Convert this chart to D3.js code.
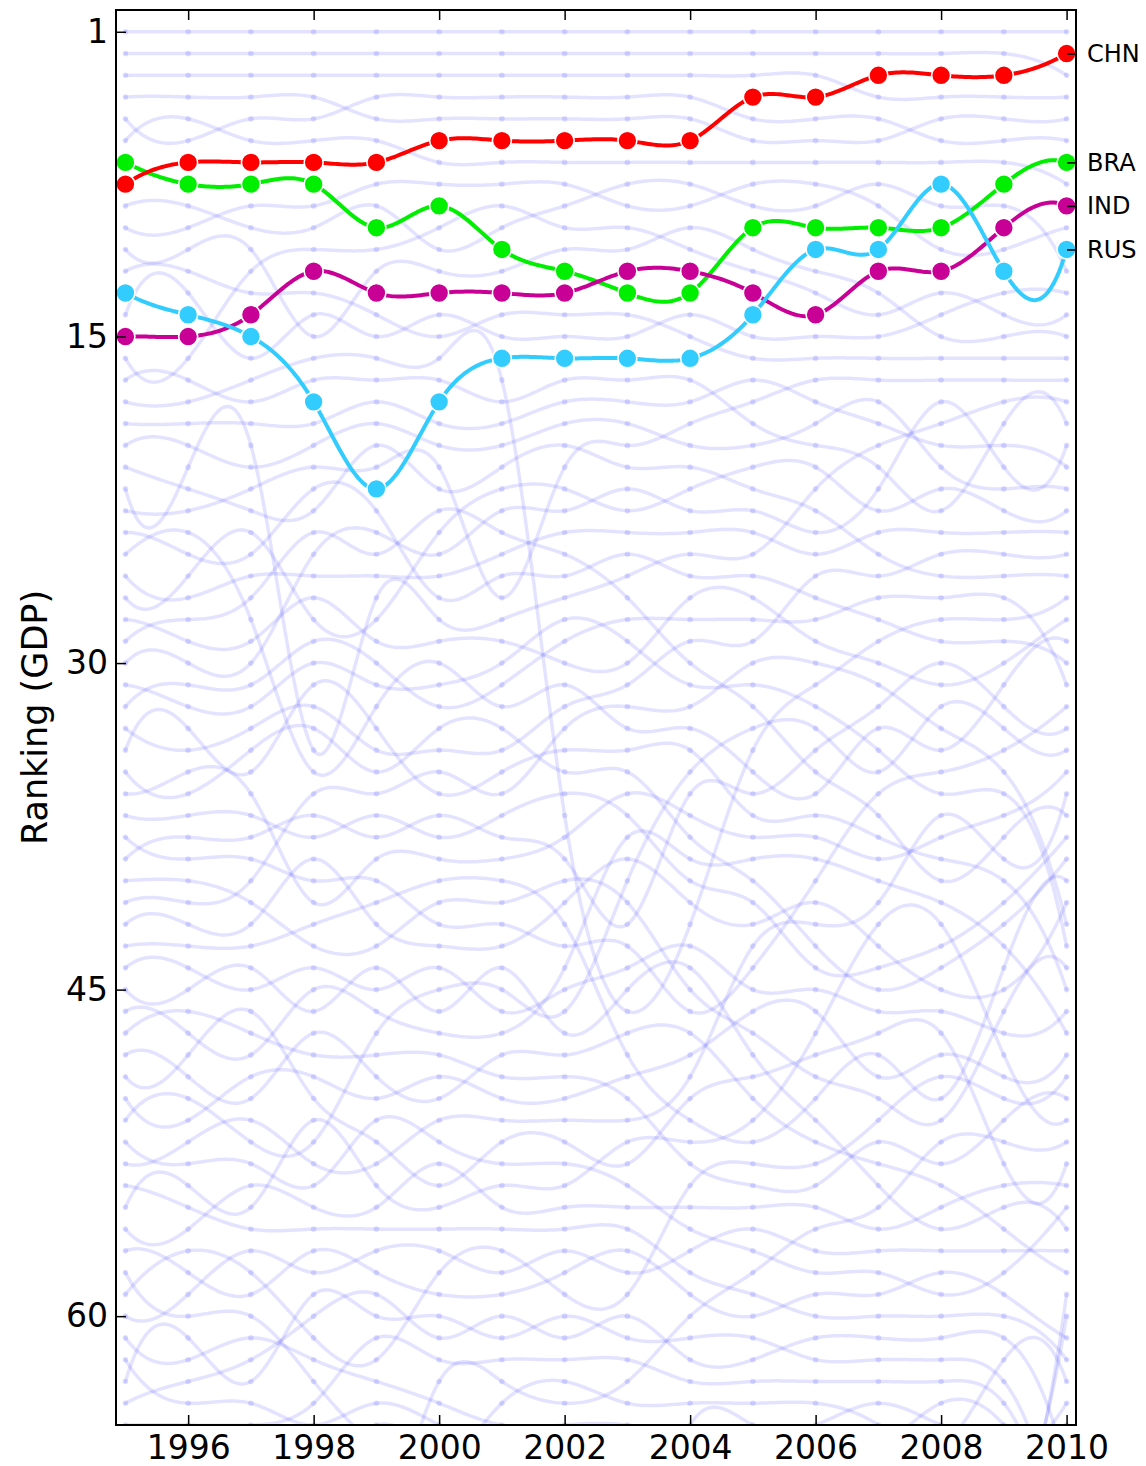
<!DOCTYPE html>
<html><head><meta charset="utf-8">
<script src="https://cdn.jsdelivr.net/npm/d3@7"></script>
<style>
body{margin:0;background:#fff}
svg{display:block}
text{font-family:"DejaVu Sans",sans-serif}
</style>
</head><body>
<svg id="chart" width="1146" height="1466"></svg>
<script>
// ---------------- data ----------------
const years = [1995,1996,1997,1998,1999,2000,2001,2002,2003,2004,2005,2006,2007,2008,2009,2010];
const xTickYears = [1996,1998,2000,2002,2004,2006,2008,2010];
const yTickRanks = [1,15,30,45,60];

const chnRank = [8,7,7,7,7,6,6,6,6,6,4,4,3,3,3,2];
const braRank = [7,8,8,8,10,9,11,12,13,13,10,10,10,10,8,7];
const indRank = [15,15,14,12,13,13,13,13,12,12,13,14,12,12,10,9];
const rusRank = [13,14,15,18,22,18,16,16,16,16,14,11,11,8,12,11];

const seriesNames = ["BRA","IND","CHN","RUS"];
const seriesColors = ["#00ee00","#c80096","#ff0000","#33ccff"];

// yearly GDP ordering of all countries (rank = position in list)
const order1995 = ("USA JPN DEU FRA GBR ITA BRA CHN ESP CAN KOR NLD RUS AUS IND MEX CHE ARG BEL SWE " +
  "AUT IDN TUR DNK THA NOR SAU ZAF HKG POL FIN GRC IRN PRT ISR MYS SGP COL VEN PHL " +
  "IRL CHL EGY PAK NZL CZE PER HUN UKR DZA ARE BGD NGA MAR ROU KWT SVK ECU KAZ VNM " +
  "LKA TUN SVN HRV LUX GTM OMN QAT URY BLR DOM SRB BGR LTU CRI PAN KEN JOR LVA BOL").split(" ");
const order1996 = ("USA JPN DEU FRA ITA GBR CHN BRA ESP CAN KOR NLD AUS RUS IND MEX CHE ARG BEL SWE " +
  "IDN AUT TUR THA DNK SAU NOR HKG ZAF POL GRC FIN PRT IRN MYS ISR SGP VEN COL PHL " +
  "IRL CHL EGY PAK NZL PER CZE UKR HUN ARE DZA NGA BGD ROU MAR KWT KAZ SVK VNM ECU " +
  "SVN LKA HRV TUN LUX OMN URY GTM QAT BLR BGR DOM SRB LTU KEN CRI PAN JOR BOL LVA").split(" ");
const order1997 = ("USA JPN DEU FRA GBR ITA CHN BRA CAN ESP KOR MEX NLD IND RUS AUS ARG CHE BEL IDN " +
  "SWE TUR AUT SAU DNK NOR HKG THA ZAF POL GRC FIN IRN ISR PRT MYS SGP VEN COL IRL " +
  "PHL CHL EGY NZL PAK UKR PER CZE DZA HUN NGA ARE BGD KWT ROU MAR VNM KAZ SVK ECU " +
  "LKA HRV SVN TUN LUX URY OMN BLR GTM QAT DOM BGR SRB KEN LTU CRI PAN BOL JOR LVA").split(" ");
const order1998 = ("USA JPN DEU FRA GBR ITA CHN BRA CAN ESP MEX IND NLD AUS KOR ARG CHE RUS BEL SWE " +
  "TUR DNK AUT HKG POL NOR ZAF SAU GRC FIN PRT IRN ISR IDN THA IRL VEN SGP CHL COL " +
  "MYS EGY PHL PAK CZE NZL HUN PER DZA UKR ROU ARE NGA BGD KWT MAR SVK VNM SVN HRV " +
  "KAZ LKA ECU LUX TUN BLR URY DOM OMN GTM BGR QAT KEN SRB LTU CRI PAN BOL LVA JOR").split(" ");
const order1999 = ("USA JPN DEU GBR FRA ITA CHN CAN ESP BRA MEX KOR IND NLD AUS ARG CHE BEL SWE AUT " +
  "TUR RUS DNK POL HKG NOR IDN SAU ZAF GRC FIN THA PRT IRN ISR IRL SGP VEN MYS COL " +
  "EGY CHL PHL NZL PAK CZE ARE PER HUN DZA BGD UKR NGA ROU KWT MAR VNM SVK HRV SVN " +
  "LUX KAZ LKA TUN URY ECU BLR OMN DOM GTM QAT BGR SRB KEN CRI LTU PAN LVA JOR BOL").split(" ");
const order2000 = ("USA JPN DEU GBR FRA CHN ITA CAN BRA MEX ESP KOR IND AUS NLD ARG CHE RUS BEL SWE " +
  "TUR AUT HKG SAU POL NOR DNK IDN ZAF THA FIN GRC ISR IRN IRL PRT VEN SGP MYS EGY " +
  "PHL COL CHL PAK ARE NZL CZE PER DZA HUN NGA BGD KWT UKR ROU MAR VNM KAZ SVK SVN " +
  "HRV LUX QAT LKA TUN URY ECU BLR OMN DOM GTM SRB BGR CRI LTU KEN PAN JOR LVA BOL").split(" ");
const order2001 = ("USA JPN DEU GBR FRA CHN ITA CAN MEX ESP BRA KOR IND NLD AUS RUS ARG CHE BEL SWE " +
  "AUT SAU POL HKG NOR DNK TUR IDN ZAF FIN GRC THA ISR IRN PRT IRL SGP VEN MYS EGY " +
  "PHL COL CHL NZL ARE PAK CZE HUN PER DZA NGA UKR BGD ROU KWT MAR KAZ VNM SVK HRV " +
  "SVN LUX QAT ECU LKA TUN URY GTM OMN BLR DOM SRB BGR KEN CRI LTU JOR PAN LVA BOL").split(" ");
const order2002 = ("USA JPN DEU GBR FRA CHN ITA CAN ESP MEX KOR BRA IND NLD AUS RUS CHE BEL SWE AUT " +
  "TUR SAU POL NOR HKG DNK IDN FIN GRC ZAF THA IRN IRL PRT ISR SGP ARG MYS VEN PHL " +
  "CHL EGY COL CZE PAK ARE NZL HUN PER DZA NGA UKR BGD ROU KWT MAR VNM SVK KAZ SVN " +
  "HRV LUX ECU QAT LKA TUN GTM OMN DOM BLR SRB URY BGR CRI KEN LTU PAN LVA JOR BOL").split(" ");
const order2003 = ("USA JPN DEU GBR FRA CHN ITA ESP CAN MEX KOR IND BRA NLD AUS RUS CHE BEL SWE TUR " +
  "AUT POL SAU NOR DNK IDN HKG GRC FIN ZAF IRN IRL THA PRT ISR MYS SGP CZE CHL ARE " +
  "PHL VEN COL PAK NZL ARG HUN EGY DZA PER NGA ROU UKR BGD KWT MAR SVK VNM KAZ HRV " +
  "SVN LUX QAT ECU LKA BLR TUN GTM OMN BGR DOM SRB URY LTU CRI KEN LVA PAN JOR BOL").split(" ");
const order2004 = ("USA JPN DEU GBR FRA CHN ITA ESP CAN KOR MEX IND BRA AUS NLD RUS CHE BEL TUR SWE " +
  "AUT SAU POL NOR IDN DNK ZAF GRC IRN HKG FIN IRL THA PRT ARE VEN MYS ISR CZE SGP " +
  "CHL ARG PAK NZL PHL COL HUN DZA NGA UKR EGY ROU PER KAZ KWT BGD VNM MAR SVK QAT " +
  "SVN HRV LUX ECU SRB LKA BLR BGR TUN GTM OMN DOM LTU URY CRI LVA KEN PAN JOR BOL").split(" ");
const order2005 = ("USA JPN DEU CHN GBR FRA ITA CAN ESP BRA KOR MEX IND RUS AUS NLD BEL TUR CHE SWE " +
  "SAU AUT POL NOR IDN DNK ZAF GRC IRN IRL FIN HKG ARE ARG THA VEN PRT MYS CZE ISR " +
  "SGP CHL NGA COL PAK DZA PHL NZL UKR HUN ROU EGY KAZ PER KWT VNM BGD QAT MAR SVK " +
  "SVN HRV LUX ECU SRB BLR BGR LKA OMN TUN DOM GTM LTU URY LVA CRI KEN PAN JOR BOL").split(" ");
const order2006 = ("USA JPN DEU CHN GBR FRA ITA CAN ESP BRA RUS KOR MEX IND AUS NLD TUR BEL SWE CHE " +
  "SAU IDN AUT POL NOR IRN DNK GRC ZAF IRL ARG FIN ARE VEN HKG THA PRT MYS CZE COL " +
  "CHL NGA ISR SGP PAK DZA ROU UKR PHL EGY NZL HUN KAZ PER KWT QAT VNM BGD SVK MAR " +
  "HRV SVN LUX ECU SRB BLR OMN BGR LKA DOM TUN GTM LTU LVA URY CRI KEN PAN JOR BOL").split(" ");
const order2007 = ("USA JPN CHN DEU GBR FRA ITA ESP CAN BRA RUS IND KOR MEX AUS NLD TUR SWE BEL IDN " +
  "CHE POL SAU NOR AUT IRN GRC DNK ARG ZAF IRL VEN THA FIN ARE COL HKG PRT MYS CZE " +
  "NGA ROU CHL SGP ISR PAK UKR EGY DZA PHL KAZ PER HUN NZL QAT KWT VNM BGD SVK MAR " +
  "HRV SVN LUX SRB ECU BLR BGR OMN DOM LKA GTM TUN LTU LVA URY CRI KEN PAN JOR BOL").split(" ");
const order2008 = ("USA JPN CHN DEU FRA GBR ITA RUS ESP BRA CAN IND MEX AUS KOR NLD TUR POL IDN BEL " +
  "SWE SAU CHE NOR IRN AUT GRC ARG DNK VEN ZAF ARE IRL THA COL FIN NGA MYS PRT HKG " +
  "CZE ROU SGP ISR CHL PAK UKR DZA KAZ EGY PHL QAT PER HUN KWT NZL VNM SVK BGD MAR " +
  "HRV SVN LUX BLR SRB ECU BGR OMN LTU DOM LKA GTM LVA TUN KEN URY CRI PAN JOR BOL").split(" ");
const order2009 = ("USA JPN CHN DEU FRA GBR ITA BRA ESP IND CAN RUS AUS MEX KOR NLD TUR IDN CHE BEL " +
  "POL SWE SAU NOR IRN AUT GRC ARG DNK ZAF THA VEN ARE COL IRL FIN MYS HKG NGA PRT " +
  "SGP ISR CZE EGY CHL PHL PAK ROU DZA KAZ PER QAT UKR KWT NZL HUN VNM BGD SVK MAR " +
  "HRV ECU SVN LUX BLR SRB OMN DOM BGR LKA GTM KEN TUN LTU URY LVA CRI PAN JOR BOL").split(" ");
const order2010 = ("USA CHN JPN DEU FRA GBR BRA ITA IND CAN RUS ESP AUS MEX KOR NLD TUR IDN CHE POL " +
  "BEL SWE SAU NOR IRN AUT ARG ZAF THA DNK GRC COL VEN ARE MYS NGA HKG SGP ISR EGY " +
  "CHL IRL FIN PHL PRT PAK CZE DZA KAZ PER ROU QAT UKR KWT BGD NZL VNM HUN GTM LKA " +
  "SVK MAR ECU OMN DOM KEN HRV SRB TUN BGR BLR SVN LUX LTU URY CRI LVA PAN JOR BOL").split(" ");

const yearlyOrders = [order1995,order1996,order1997,order1998,order1999,order2000,order2001,order2002,
  order2003,order2004,order2005,order2006,order2007,order2008,order2009,order2010];

// ---------------- layout ----------------
const plot = {left:116, right:1076, top:10, bottom:1425};
const svg = d3.select("#chart");

const x = d3.scaleLinear().domain([1994.85, 2010.15]).range([plot.left, plot.right]);
const y = d3.scaleLinear().domain([0, 65]).range([plot.top, plot.bottom]);

// cubic spline (not-a-knot ends) through (year, rank)
function solve(A, b){
  const n = b.length;
  for (let c=0;c<n;c++){
    let p=c; for(let r=c+1;r<n;r++) if(Math.abs(A[r][c])>Math.abs(A[p][c])) p=r;
    [A[c],A[p]]=[A[p],A[c]]; [b[c],b[p]]=[b[p],b[c]];
    for(let r=c+1;r<n;r++){
      const f=A[r][c]/A[c][c]; if(!f) continue;
      for(let k=c;k<n;k++) A[r][k]-=f*A[c][k];
      b[r]-=f*b[c];
    }
  }
  const m=new Array(n).fill(0);
  for(let r=n-1;r>=0;r--){
    let s=b[r]; for(let k=r+1;k<n;k++) s-=A[r][k]*m[k];
    m[r]=s/A[r][r];
  }
  return m;
}
function splineM(u, v){
  const n=u.length-1, h=[];
  for(let i=0;i<n;i++) h.push(u[i+1]-u[i]);
  const A=[], b=[];
  for(let i=0;i<=n;i++){ A.push(new Array(n+1).fill(0)); b.push(0); }
  A[0][0]=h[1]; A[0][1]=-(h[0]+h[1]); A[0][2]=h[0];
  for(let i=1;i<n;i++){
    A[i][i-1]=h[i-1]; A[i][i]=2*(h[i-1]+h[i]); A[i][i+1]=h[i];
    b[i]=6*((v[i+1]-v[i])/h[i]-(v[i]-v[i-1])/h[i-1]);
  }
  A[n][n-2]=h[n-1]; A[n][n-1]=-(h[n-2]+h[n-1]); A[n][n]=h[n-2];
  return solve(A,b);
}
function smoothPoints(xs, ys){
  const M = splineM(xs, ys); const out=[]; const K=24;
  for(let i=0;i<xs.length-1;i++){
    const h=xs[i+1]-xs[i];
    for(let k=0;k<K;k++){
      const t=xs[i]+h*k/K, a=xs[i+1]-t, c=t-xs[i];
      out.push([t, M[i]*a*a*a/(6*h)+M[i+1]*c*c*c/(6*h)+(ys[i]/h-M[i]*h/6)*a+(ys[i+1]/h-M[i+1]*h/6)*c]);
    }
  }
  out.push([xs[xs.length-1], ys[ys.length-1]]);
  return out;
}

const line = d3.line().x(d=>x(d[0])).y(d=>y(d[1]));

svg.append("defs").append("clipPath").attr("id","plotClip")
  .append("rect").attr("x",plot.left).attr("y",plot.top)
  .attr("width",plot.right-plot.left).attr("height",plot.bottom-plot.top);

// ---------------- background countries ----------------
const bg = svg.append("g").attr("clip-path","url(#plotClip)");
const others = order1995.filter(c => !seriesNames.includes(c));
others.forEach(code=>{
  const ranks = yearlyOrders.map(o => o.indexOf(code)+1);
  if (ranks.some(r => r===0)) return;
  bg.append("path").attr("d", line(smoothPoints(years, ranks)))
    .attr("fill","none").attr("stroke","#0000ff").attr("stroke-opacity",0.11)
    .attr("stroke-width",3.5).attr("stroke-linecap","round");
  bg.selectAll(null).data(years.map((yr,i)=>[yr,ranks[i]])).enter().append("circle")
    .attr("cx",d=>x(d[0])).attr("cy",d=>y(d[1])).attr("r",2.8)
    .attr("fill","#0000ff").attr("fill-opacity",0.12);
});

// ---------------- highlighted BRIC ----------------
const seriesRanks = {BRA:braRank, IND:indRank, CHN:chnRank, RUS:rusRank};
const fg = svg.append("g");
seriesNames.forEach((name,si)=>{
  const ranks = seriesRanks[name];
  fg.append("path").attr("d", line(smoothPoints(years, ranks)))
    .attr("fill","none").attr("stroke",seriesColors[si]).attr("stroke-width",4)
    .attr("stroke-linecap","round").attr("clip-path","url(#plotClip)");
  fg.selectAll(null).data(years.map((yr,i)=>[yr,ranks[i]])).enter().append("circle")
    .attr("cx",d=>x(d[0])).attr("cy",d=>y(d[1])).attr("r",9.5)
    .attr("fill",seriesColors[si]).attr("stroke","#fff").attr("stroke-width",1.6);
});

// ---------------- axes ----------------
const fs = 33;
function styleAxis(g, size){
  g.select(".domain").remove();
  g.selectAll(".tick line").attr("stroke","#000").attr("stroke-width",1.5);
  g.selectAll(".tick text").attr("fill","#000").attr("font-size",size)
    .attr("font-family","'DejaVu Sans', sans-serif");
}
const gb = svg.append("g").attr("transform",`translate(0,${plot.bottom})`)
  .call(d3.axisBottom(x).tickValues(xTickYears).tickSize(-10).tickPadding(11).tickFormat(d3.format("d")));
styleAxis(gb, fs);
const gt = svg.append("g").attr("transform",`translate(0,${plot.top})`)
  .call(d3.axisTop(x).tickValues(xTickYears).tickSize(-10).tickFormat(""));
styleAxis(gt, fs);
const gl = svg.append("g").attr("transform",`translate(${plot.left},0)`)
  .call(d3.axisLeft(y).tickValues(yTickRanks).tickSize(-10).tickPadding(8).tickFormat(d3.format("d")));
styleAxis(gl, fs);

const lastRanks = seriesNames.map(n => seriesRanks[n][seriesRanks[n].length-1]);
const gr = svg.append("g").attr("transform",`translate(${plot.right},0)`)
  .call(d3.axisRight(y).tickValues(lastRanks).tickSize(-9).tickPadding(11)
    .tickFormat(r => seriesNames[lastRanks.indexOf(r)]));
styleAxis(gr, 24);

// frame
svg.append("rect").attr("x",plot.left).attr("y",plot.top)
  .attr("width",plot.right-plot.left).attr("height",plot.bottom-plot.top)
  .attr("fill","none").attr("stroke","#000").attr("stroke-width",2);

// y label
svg.append("text")
  .attr("transform",`translate(47,${(plot.top+plot.bottom)/2}) rotate(-90)`)
  .attr("text-anchor","middle").attr("font-size",35).attr("fill","#000")
  .text("Ranking (GDP)");
</script>
</body></html>
